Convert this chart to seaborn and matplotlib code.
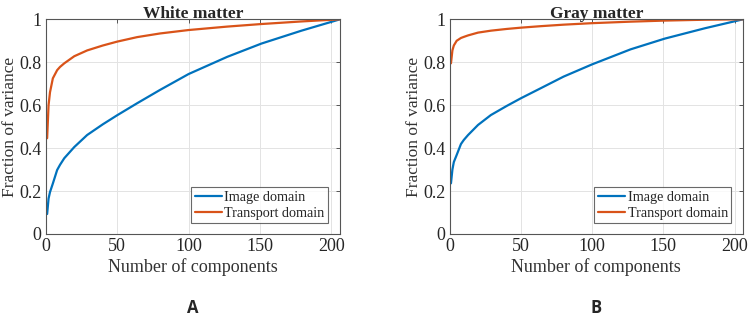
import matplotlib
matplotlib.use("Agg")
import matplotlib.pyplot as plt
import numpy as np
import pandas as pd
import seaborn as sns

sns.set_theme(style="whitegrid")
plt.rcParams["font.family"] = ["Liberation Serif", "DejaVu Serif"]
blue, orange = "#0072BD", "#D95319"

components = [1, 2, 3, 5, 8, 10, 13, 20, 29, 40, 50, 64, 80, 100, 127, 151, 179, 206]
white_image = [0.093, 0.165, 0.195, 0.235, 0.298, 0.322, 0.353, 0.405, 0.461, 0.511, 0.553,
               0.609, 0.671, 0.745, 0.825, 0.887, 0.947, 1.0]
white_transport = [0.446, 0.6, 0.66, 0.725, 0.763, 0.778, 0.795, 0.828, 0.855, 0.878, 0.896,
                   0.917, 0.934, 0.95, 0.966, 0.978, 0.99, 1.0]
gray_image = [0.236, 0.3, 0.335, 0.368, 0.419, 0.438, 0.461, 0.508, 0.554, 0.596, 0.632,
              0.679, 0.733, 0.79, 0.86, 0.91, 0.958, 1.0]
gray_transport = [0.795, 0.855, 0.878, 0.9, 0.913, 0.918, 0.925, 0.938, 0.947, 0.955, 0.961,
                  0.968, 0.975, 0.982, 0.989, 0.994, 0.998, 1.0]
titles = ["White matter", "Gray matter"]
panel_tags = ["A", "B"]
domains = ["Image domain", "Transport domain"]


def long_frame(image, transport):
    return pd.DataFrame({
        "n": components * 2,
        "frac": image + transport,
        "domain": [domains[0]] * len(components) + [domains[1]] * len(components),
    })


def matlab_axes(ax):
    for side in ["top", "right", "bottom", "left"]:
        ax.spines[side].set_visible(True)
        ax.spines[side].set_color("#555555")
        ax.spines[side].set_linewidth(0.8)
    ax.grid(color="#e3e3e3", lw=0.7)
    ax.tick_params(direction="in", length=3, width=0.7, color="#555555",
                   top=True, right=True, labelsize=13, pad=3)
    ax.set_xlim(0, 206)
    ax.set_ylim(0, 1)
    ax.set_xticks([0, 50, 100, 150, 200])
    ax.set_yticks([0, 0.2, 0.4, 0.6, 0.8, 1.0], ["0", "0.2", "0.4", "0.6", "0.8", "1"])


fig = plt.figure(figsize=(7.48, 3.19), dpi=100)
positions = [[0.0611, 0.2665, 0.3935, 0.673], [0.601, 0.2665, 0.3925, 0.673]]
frames = [long_frame(white_image, white_transport), long_frame(gray_image, gray_transport)]

for pos, df, title, tag in zip(positions, frames, titles, panel_tags):
    ax = fig.add_axes(pos)
    sns.lineplot(data=df, x="n", y="frac", hue="domain", palette=[blue, orange],
                 lw=1.6, ax=ax)
    matlab_axes(ax)
    ax.set_xlabel("Number of components", fontsize=13, color="#333333", labelpad=2)
    ax.set_ylabel("Fraction of variance", fontsize=12.5, color="#333333", labelpad=1)
    ax.set_title(title, fontsize=12.5, weight="bold", pad=1)
    leg = ax.legend(loc="lower right", bbox_to_anchor=(0.96, 0.05), fontsize=10.2,
                    frameon=True, fancybox=False, handlelength=1.9, handletextpad=0.2,
                    borderpad=0.25, labelspacing=0.2, borderaxespad=0)
    leg.get_frame().set_edgecolor("#444444")
    leg.get_frame().set_linewidth(0.8)
    cx = pos[0] + pos[2] / 2
    fig.text(cx, 0.02, tag, ha="center", va="baseline", fontsize=12, weight="bold",
             family=["Open Sans", "DejaVu Sans"])

fig.savefig("out.png", dpi=100)
